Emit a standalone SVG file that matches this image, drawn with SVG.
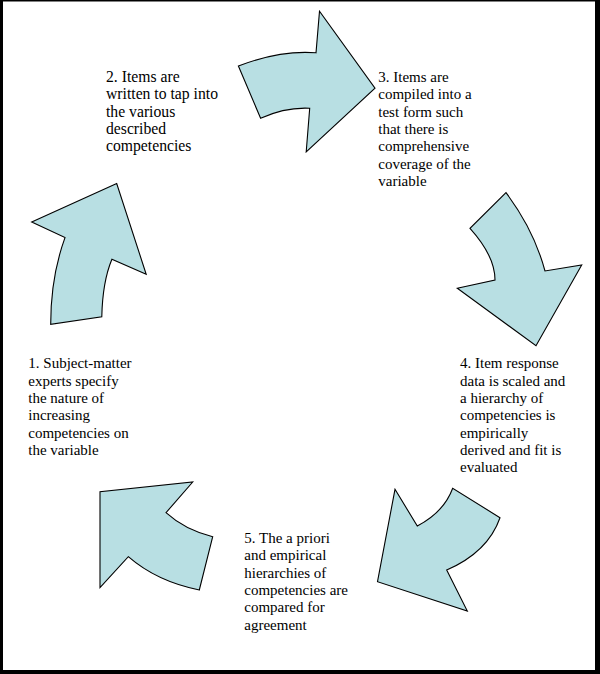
<svg xmlns="http://www.w3.org/2000/svg" width="600" height="674" viewBox="0 0 600 674">
<style>
.arr{fill:#b8dfe3;stroke:#000;stroke-width:1.1;stroke-linejoin:miter}
.lbl{font-family:"Liberation Serif","Times New Roman",serif;font-size:15px;fill:#000}
</style>
<rect x="0" y="0" width="600" height="674" fill="#000"/>
<rect x="3" y="1.5" width="592" height="668.5" fill="#fff"/>
<g id="connectors">
<path id="arrow-1-2" class="arr" d="M50.7,324.3 Q50.7,277 65,237.6 L31.7,222 L116.7,183.5 L146.2,274.3 L111.9,259.3 Q102.5,282 101.8,316.8 Z"/>
<path id="arrow-2-3" class="arr" d="M238.4,66 Q280,50 316,52.8 L319.5,11.3 L375,88.2 L306.2,151.8 L309.7,108.2 Q285,107 260.6,118.3 Z"/>
<path id="arrow-3-4" class="arr" d="M506,192.7 Q534,230 545,271 L581.7,265 L536,345.7 L457.3,288.3 L495,280 Q495,256 470,228.3 Z"/>
<path id="arrow-4-5" class="arr" d="M500,517.7 Q488,552 446.7,570 L467.3,611 L377.5,581.7 L395,489.3 L417.3,526 Q444,512 452.7,488.3 Z"/>
<path id="arrow-5-1" class="arr" d="M212.7,536.7 Q185,530 166,512.7 L192.7,482 L100,491.7 L100,587.7 L128.3,556.7 Q157,581.6 199.3,590 Z"/>
</g>
<g id="node-1">
<text class="lbl" x="28.3" y="368.3"><tspan x="28.3">1. Subject-matter</tspan><tspan x="28.3" dy="17.3">experts specify</tspan><tspan x="28.3" dy="17.3">the nature of</tspan><tspan x="28.3" dy="17.3">increasing</tspan><tspan x="28.3" dy="17.3">competencies on</tspan><tspan x="28.3" dy="17.3">the variable</tspan></text>
</g>
<g id="node-2">
<text class="lbl" x="106" y="82" style="font-size:15.7px"><tspan x="106">2. Items are</tspan><tspan x="106" dy="17.3">written to tap into</tspan><tspan x="106" dy="17.3">the various</tspan><tspan x="106" dy="17.3">described</tspan><tspan x="106" dy="17.3">competencies</tspan></text>
</g>
<g id="node-3">
<text class="lbl" x="378.3" y="82"><tspan x="378.3">3. Items are</tspan><tspan x="378.3" dy="17.3">compiled into a</tspan><tspan x="378.3" dy="17.3">test form such</tspan><tspan x="378.3" dy="17.3">that there is</tspan><tspan x="378.3" dy="17.3">comprehensive</tspan><tspan x="378.3" dy="17.3">coverage of the</tspan><tspan x="378.3" dy="17.3">variable</tspan></text>
</g>
<g id="node-4">
<text class="lbl" x="460" y="368.3"><tspan x="460">4. Item response</tspan><tspan x="460" dy="17.3">data is scaled and</tspan><tspan x="460" dy="17.3">a hierarchy of</tspan><tspan x="460" dy="17.3">competencies is</tspan><tspan x="460" dy="17.3">empirically</tspan><tspan x="460" dy="17.3">derived and fit is</tspan><tspan x="460" dy="17.3">evaluated</tspan></text>
</g>
<g id="node-5">
<text class="lbl" x="244.3" y="543"><tspan x="244.3">5. The a priori</tspan><tspan x="244.3" dy="17.3">and empirical</tspan><tspan x="244.3" dy="17.3">hierarchies of</tspan><tspan x="244.3" dy="17.3">competencies are</tspan><tspan x="244.3" dy="17.3">compared for</tspan><tspan x="244.3" dy="17.3">agreement</tspan></text>
</g>
</svg>
